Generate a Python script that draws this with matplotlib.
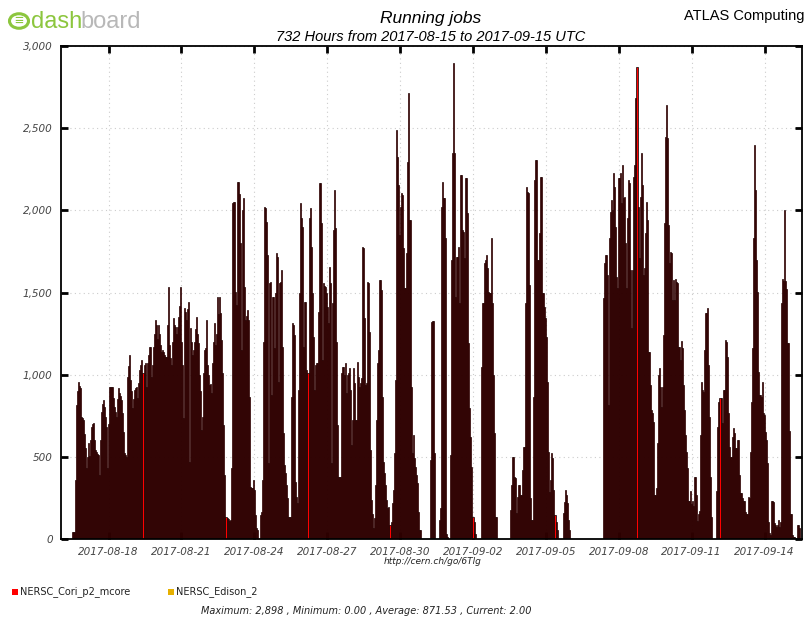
import pandas as pd
import numpy as np
import matplotlib
matplotlib.use("Agg")
import matplotlib.pyplot as plt
import matplotlib.dates as mdates
import matplotlib.ticker as ticker
from matplotlib.patches import Circle, Rectangle

# hourly running jobs, one row per day starting 2017-08-16 00:00 UTC
cori_p2_mcore = [
    0, 0, 0, 0, 0, 0, 0, 0, 0, 0, 0, 0, 40, 45, 45, 360, 815, 900, 957, 930, 918, 745, 735, 724,  # 08-16
    640, 553, 432, 500, 584, 505, 600, 683, 700, 706, 600, 542, 531, 520, 511, 389, 600, 775, 820, 846, 805, 740, 683, 432,  # 08-17
    700, 927, 927, 927, 927, 860, 805, 770, 745, 850, 918, 888, 870, 846, 766, 650, 523, 510, 501, 988, 1050, 1120, 968, 900,  # 08-18
    797, 850, 907, 920, 927, 858, 950, 1028, 1060, 1089, 1010, 1060, 1071, 927, 1070, 1120, 1170, 1170, 988, 1060, 1170, 1250, 1333, 1300,  # 08-19
    1220, 1300, 1250, 1180, 1140, 1150, 1140, 1120, 1110, 1110, 1300, 1533, 1180, 1100, 1060, 1200, 1345, 1300, 1290, 1250, 1290, 1350, 1420, 1535,  # 08-20
    1200, 1060, 736, 1405, 1380, 1333, 1400, 1444, 470, 1285, 1200, 1120, 1150, 1200, 1280, 1353, 1250, 1190, 1000, 899, 663, 745, 1010, 1150,  # 08-21
    1160, 1333, 1060, 1000, 937, 946, 888, 1070, 1200, 1313, 1180, 1250, 1475, 1372, 1474, 1374, 1211, 1008, 694, 389, 136, 128, 120, 110,  # 08-22
    116, 430, 2042, 2052, 2052, 1505, 1424, 2174, 2174, 2100, 1800, 1150, 2002, 2073, 1535, 1333, 1360, 1393, 1333, 866, 319, 310, 309, 359,  # 08-23
    298, 146, 65, 55, 0, 0, 146, 166, 359, 1200, 2022, 2012, 1931, 1728, 460, 1556, 1566, 876, 1474, 1474, 1160, 1500, 1738, 1718,  # 08-24
    957, 1556, 1566, 1637, 1170, 643, 450, 399, 329, 250, 136, 136, 136, 866, 1312, 1302, 1241, 349, 258, 217, 907, 1500, 2042, 1951,  # 08-25
    1900, 1170, 1444, 1444, 1028, 1008, 1951, 2012, 1779, 1500, 1231, 907, 1059, 1069, 1069, 1383, 2164, 2164, 1920, 1089, 1556, 1540, 1535, 1495,  # 08-26
    1414, 1312, 1657, 1556, 460, 1434, 1880, 2123, 1890, 1200, 694, 380, 380, 380, 1008, 1049, 1049, 998, 1069, 887, 998, 1010, 1039, 907,  # 08-27
    572, 725, 1039, 948, 725, 725, 1079, 988, 927, 950, 978, 1779, 1769, 1343, 937, 948, 1566, 1556, 1262, 541, 237, 150, 65, 126,  # 08-28
    329, 725, 1069, 1150, 1576, 1576, 1515, 866, 470, 400, 329, 237, 186, 197, 85, 106, 217, 300, 521, 968, 2489, 2326, 2154, 1850,  # 08-29
    2022, 2103, 2093, 1769, 1526, 1526, 1738, 2296, 2712, 1941, 1941, 927, 521, 633, 491, 440, 390, 339, 167, 55, 55, 0, 0, 0,  # 08-30
    0, 0, 0, 0, 0, 0, 481, 1318, 1328, 1328, 521, 0, 0, 0, 0, 116, 187, 2022, 2174, 2073, 2073, 1830, 30, 10,  # 08-31
    0, 0, 511, 1698, 2347, 2898, 2347, 1475, 1718, 1718, 1779, 1434, 2215, 2215, 1880, 1870, 1708, 2194, 2194, 1982, 1191, 795, 623, 440,  # 09-01
    136, 106, 30, 0, 0, 0, 0, 0, 1049, 1434, 1434, 1677, 1698, 1728, 1647, 1505, 1495, 1495, 1830, 1434, 997, 643, 136, 136,  # 09-02
    0, 0, 0, 0, 0, 0, 0, 0, 0, 0, 0, 0, 0, 177, 329, 501, 501, 380, 370, 156, 258, 329, 329, 268,  # 09-03
    268, 420, 562, 562, 1434, 2144, 2113, 2103, 1545, 247, 116, 116, 866, 2184, 2306, 2306, 1698, 1698, 1860, 2205, 2205, 1495, 1495, 1414,  # 09-04
    1343, 1231, 957, 531, 288, 359, 521, 491, 298, 146, 106, 55, 0, 0, 0, 0, 0, 156, 227, 298, 268, 218, 116, 55,  # 09-05
    0, 0, 0, 0, 0, 0, 0, 0, 0, 0, 0, 0, 0, 0, 0, 0, 0, 0, 0, 0, 0, 0, 0, 0,  # 09-06
    0, 0, 0, 0, 0, 0, 0, 0, 0, 1464, 1677, 1728, 1728, 1607, 816, 1830, 1992, 2063, 2002, 2225, 2144, 1901, 1597, 1525,  # 09-07
    2195, 2195, 2225, 2043, 2276, 2073, 2083, 1799, 1525, 1951, 2185, 2164, 1637, 1282, 1637, 2205, 2276, 2682, 2874, 2022, 1708, 2083, 2347, 2154,  # 09-08
    1607, 1648, 1860, 2053, 1941, 1140, 1140, 937, 785, 764, 714, 268, 268, 308, 582, 998, 1038, 927, 805, 927, 1241, 1921, 2448, 2641,  # 09-09
    2438, 1911, 1677, 1748, 1738, 1455, 1576, 1455, 1581, 1566, 1560, 1170, 1170, 1089, 1207, 1160, 937, 785, 633, 531, 430, 233, 233, 294,  # 09-10
    213, 233, 203, 379, 379, 268, 112, 152, 172, 633, 957, 907, 897, 1150, 1373, 1373, 1404, 1059, 744, 379, 136, 0, 0, 0,  # 09-11
    0, 294, 683, 835, 856, 856, 704, 907, 907, 1211, 1201, 1110, 764, 562, 501, 501, 623, 673, 643, 552, 552, 602, 602, 389,  # 09-12
    278, 278, 248, 233, 233, 162, 152, 152, 258, 248, 531, 835, 1160, 1829, 2398, 2124, 1698, 1505, 1018, 876, 876, 866, 957, 764,  # 09-13
    754, 653, 602, 460, 105, 35, 25, 233, 233, 223, 95, 85, 75, 85, 116, 75, 105, 1434, 1581, 1570, 2002, 1570, 1520, 1191,  # 09-14
    1191, 660, 152, 152, 25, 14, 14, 0, 0, 85, 85, 65, 2,  # 09-15
]
edison_2 = [0] * len(cori_p2_mcore)

series_names = ["NERSC_Cori_p2_mcore", "NERSC_Edison_2"]
series_colors = ["#ff0000", "#e6b000"]
tick_dates = ["2017-08-18", "2017-08-21", "2017-08-24", "2017-08-27", "2017-08-30",
              "2017-09-02", "2017-09-05", "2017-09-08", "2017-09-11", "2017-09-14"]
y_ticks = [0, 500, 1000, 1500, 2000, 2500, 3000]

hours = pd.date_range("2017-08-16 00:00", periods=len(cori_p2_mcore), freq="h")
x_start = pd.Timestamp("2017-08-16 01:00")
x_end = pd.Timestamp("2017-09-15 13:00")

narrow = ["Liberation Sans Narrow", "DejaVu Sans"]
plain = ["Liberation Sans", "DejaVu Sans"]

W, H = 808, 617
fig = plt.figure(figsize=(W / 100, H / 100), dpi=100)
ax = fig.add_axes([61 / W, 1 - 539 / H, (802 - 61) / W, (539 - 46) / H])

cori = np.array(cori_p2_mcore)
ax.bar(hours, cori, width=1 / 24, color=series_colors[0], edgecolor="black",
       linewidth=0.5, align="center", zorder=2)
ax.bar(hours, edison_2, bottom=cori, width=1 / 24, color=series_colors[1],
       edgecolor="black", linewidth=0.0, align="center", zorder=2)

ax.set_xlim(x_start, x_end)
ax.set_ylim(0, 3000)
ax.set_yticks(y_ticks)
ax.yaxis.set_major_formatter(ticker.FuncFormatter(lambda v, _: f"{int(v):,}"))
ax.set_xticks(pd.to_datetime(tick_dates))
ax.xaxis.set_major_formatter(mdates.DateFormatter("%Y-%m-%d"))

ax.grid(True, color="#cccccc", linestyle=(0, (1, 3)), linewidth=0.8, zorder=0)
ax.set_axisbelow(True)
ax.tick_params(direction="in", length=5, width=2, top=True, right=True,
               colors="black", labelcolor="#444444", pad=6)
for lab in ax.get_xticklabels() + ax.get_yticklabels():
    lab.set_fontfamily(narrow)
    lab.set_fontstyle("italic")
    lab.set_fontsize(7.5)
for s in ax.spines.values():
    s.set_linewidth(1.3)

# titles
fig.text(431 / W, 1 - 19 / H, "Running jobs", ha="center", va="center",
         fontsize=12.5, style="italic", family=plain)
fig.text(431 / W, 1 - 37 / H, "732 Hours from 2017-08-15 to 2017-09-15 UTC",
         ha="center", va="center", fontsize=10.5, style="italic", family=plain)
fig.text(805 / W, 1 - 16 / H, "ATLAS Computing", ha="right", va="center",
         fontsize=10.5, family=plain)

# dashboard logo
fig.patches.append(Circle((19 / W, 1 - 21 / H), 9.5 / W, transform=fig.transFigure,
                          fill=False, edgecolor="#8cc63e", linewidth=2.2))
fig.text(19 / W, 1 - 21 / H, "\u2261", ha="center", va="center", fontsize=11,
         color="#8cc63e", family=plain)
fig.text(31 / W, 1 - 22 / H, "dash", ha="left", va="center", fontsize=17,
         color="#8cc63e", family=plain)
fig.text(80 / W, 1 - 22 / H, "board", ha="left", va="center", fontsize=17,
         color="#b8b8b8", family=plain)

fig.text(433 / W, 1 - 562 / H, "http://cern.ch/go/6Tlg", ha="center", va="center",
         fontsize=6.5, style="italic", family=narrow, color="#222222")

# legend
legend_x = [12, 168]
for name, col, lx in zip(series_names, series_colors, legend_x):
    fig.patches.append(Rectangle((lx / W, 1 - 595 / H), 6 / W, 6 / H,
                                 transform=fig.transFigure, facecolor=col,
                                 edgecolor="none"))
    fig.text((lx + 8) / W, 1 - 592 / H, name, ha="left", va="center",
             fontsize=7, family=narrow, color="#222222")

fig.text(366 / W, 1 - 611 / H,
         "Maximum: 2,898 , Minimum: 0.00 , Average: 871.53 , Current: 2.00",
         ha="center", va="center", fontsize=7, style="italic", family=narrow,
         color="#222222")

fig.savefig("out.png", dpi=100)
